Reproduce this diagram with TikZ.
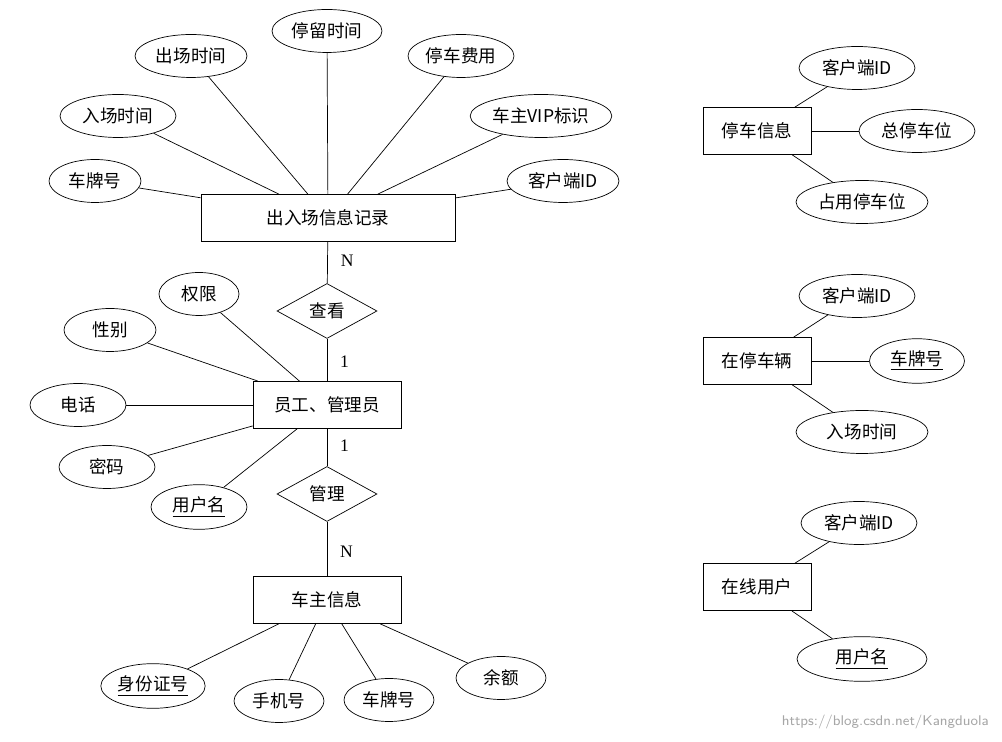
\documentclass[tikz,border=0pt]{standalone}
\usepackage{fontspec}
\setmainfont{Liberation Serif}
\newfontfamily\cjk{Noto Sans CJK SC}
\usetikzlibrary{shapes.geometric,positioning}
\tikzset{>=latex}
\tikzstyle{entity}=[rectangle,draw,minimum height=0.94cm,font=\cjk]
\tikzstyle{attr}=[ellipse,draw,minimum height=0.86cm,inner xsep=1pt,font=\cjk]
\tikzstyle{rel}=[diamond,draw,aspect=1.8,inner sep=1pt,minimum width=2cm,minimum height=1.1cm,font=\cjk]

\begin{document}
\begin{tikzpicture}[x=0.02cm,y=-0.02cm,font=\fontsize{10}{12}\selectfont]
  \useasboundingbox (0,0) rectangle (1002,742);
  % entities
  \node[entity,minimum width=5.08cm] (rec) at (328,218) {出入场信息记录};
  \node[entity,minimum width=2.96cm] (emp) at (327,405) {员工、管理员};
  \node[entity,minimum width=2.96cm] (own) at (327,600) {车主信息};
  \node[entity,minimum width=2.16cm] (park) at (757,131) {停车信息};
  \node[entity,minimum width=2.16cm] (car) at (757,361) {在停车辆};
  \node[entity,minimum width=2.16cm] (user) at (757,587) {在线用户};

  % relations
  \node[rel] (see) at (327,311) {查看};
  \node[rel] (man) at (327,494) {管理};

  % attributes of rec
  \node[attr,minimum width=1.84cm] (rplate) at (95,181) {车牌号};
  \node[attr,minimum width=2.32cm] (rin) at (118,116) {入场时间};
  \node[attr,minimum width=2.24cm] (rout) at (191,56) {出场时间};
  \node[attr,minimum width=2.2cm] (rstay) at (327,31) {停留时间};
  \node[attr,minimum width=2.12cm] (rfee) at (461,56) {停车费用};
  \node[attr,minimum width=2.8cm] (rvip) at (541,116) {车主VIP标识};
  \node[attr,minimum width=2.24cm] (rid) at (563,181) {客户端ID};

  % attributes of emp
  \node[attr,minimum width=1.6cm] (eright) at (199,294) {权限};
  \node[attr,minimum width=1.84cm] (esex) at (110,330) {性别};
  \node[attr,minimum width=1.92cm] (etel) at (78,405) {电话};
  \node[attr,minimum width=1.92cm] (epwd) at (107,467) {密码};
  \node[attr,minimum width=1.92cm] (ename) at (199,507) {\underline{用户名}};

  % attributes of own
  \node[attr,minimum width=1.92cm] (oid) at (153,686) {\underline{身份证号}};
  \node[attr,minimum width=1.8cm] (otel) at (279,701) {手机号};
  \node[attr,minimum width=1.8cm] (oplate) at (389,700) {车牌号};
  \node[attr,minimum width=1.8cm] (omoney) at (501,678) {余额};

  % right side
  \node[attr,minimum width=2.32cm] (pid) at (857,68) {客户端ID};
  \node[attr,minimum width=2.32cm] (ptotal) at (917,131) {总停车位};
  \node[attr,minimum width=2.64cm] (pused) at (862,202) {占用停车位};
  \node[attr,minimum width=2.32cm] (cid) at (857,296) {客户端ID};
  \node[attr,minimum width=1.9cm] (cplate) at (917,361) {\underline{车牌号}};
  \node[attr,minimum width=2.64cm] (cin) at (862,432) {入场时间};
  \node[attr,minimum width=2.32cm] (uid) at (859,523) {客户端ID};
  \node[attr,minimum width=2.6cm] (uname) at (862,659) {\underline{用户名}};

  % connectors
  \foreach \a in {rplate,rin,rout,rstay,rfee,rvip,rid} \draw (\a) -- (rec);
  \foreach \a in {eright,esex,etel,epwd,ename} \draw (\a) -- (emp);
  \foreach \a in {oid,otel,oplate,omoney} \draw (\a) -- (own);
  \foreach \a in {pid,ptotal,pused} \draw (\a) -- (park);
  \foreach \a in {cid,cplate,cin} \draw (\a) -- (car);
  \foreach \a in {uid,uname} \draw (\a) -- (user);
  \draw (rec) -- node[right=4pt,pos=0.45] (n1) {N} (see);
  \draw (see) -- node[right=4pt,pos=0.55] (o1) {1} (emp);
  \draw (emp) -- node[right=4pt,pos=0.45] (o2) {1} (man);
  \draw (man) -- node[right=4pt,pos=0.55] (n2) {N} (own);

  \node[text=black!35,font=\sffamily\fontsize{8}{10}\selectfont,anchor=east] (mark) at (995,722) {https://blog.csdn.net/Kangduola};
\end{tikzpicture}
\end{document}
